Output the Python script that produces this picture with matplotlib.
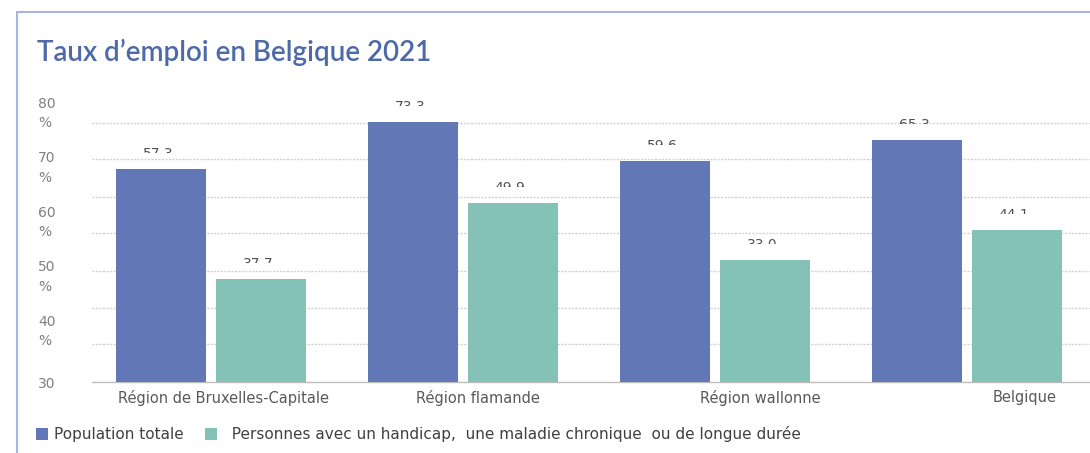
import numpy as np
import matplotlib
matplotlib.use('Agg')
import matplotlib.pyplot as plt
from matplotlib.patches import Rectangle, Patch
from matplotlib.transforms import Bbox

# values as drawn on the picture's axis (%)
regions = ['Région de Bruxelles-Capitale', 'Région flamande', 'Région wallonne', 'Belgique']
pop_totale = [69.0, 77.6, 70.5, 74.3]
handicap = [48.9, 62.8, 52.3, 57.8]
# data labels (only their upper half is visible on the source image)
pop_labels = ['57.3', '73.3', '59.6', '65.3']
hand_labels = ['37.7', '49.9', '33.0', '44.1']
ytick_vals = [30, 40, 50, 60, 70, 80]
ytick_text = ['30', '40\n%', '50\n%', '60\n%', '70\n%', '80\n%']
grid_levels = [36.9, 43.5, 50.3, 57.3, 63.9, 70.8, 77.4]
legend_text = ['Population totale',
               '  Personnes avec un handicap,  une maladie chronique  ou de longue durée']

c_total = '#6277b5'
c_hand = '#84c1b7'
c_title = '#4e69aa'

fig = plt.figure(figsize=(10.9, 4.53), dpi=100)
ax = fig.add_axes([92 / 1090, 71 / 453, 1 - 92 / 1090, 283.9 / 453])

x = np.arange(len(regions))
w = 0.357
off = 0.198
b1 = ax.bar(x - off, np.array(pop_totale) - 30, w, bottom=30, color=c_total, zorder=3)
b2 = ax.bar(x + off, np.array(handicap) - 30, w, bottom=30, color=c_hand, zorder=3)

ax.set_xlim(-0.472, 3.488)
ax.set_ylim(30, 82)

for g in grid_levels:
    ax.axhline(g, color='#d2d2d2', lw=1.0, ls=(0, (1.5, 1)), zorder=1)

for s in ['top', 'right', 'left']:
    ax.spines[s].set_visible(False)
ax.spines['bottom'].set_color('#bdbdbd')
ax.spines['bottom'].set_linewidth(1.0)

ax.set_yticks(ytick_vals)
ax.set_yticklabels(ytick_text, fontsize=10, color='#808080', ha='left',
                   multialignment='left', linespacing=1.5)
ax.tick_params(axis='y', length=0, pad=54 * 0.72)

# labels under groups are not quite centred on the source
shift = [0.05, 0.06, 0.18, 0.23]
ax.set_xticks(x + np.array(shift))
ax.set_xticklabels(regions, fontsize=10.5, color='#595959')
ax.tick_params(axis='x', length=0, pad=6)

# value labels, cut through the middle as on the source image
for bars, labs in [(b1, pop_labels), (b2, hand_labels)]:
    for rect, lab in zip(bars, labs):
        cx = rect.get_x() + rect.get_width() / 2
        top = rect.get_y() + rect.get_height()
        px, py = ax.transData.transform((cx, top))
        t = ax.annotate(lab, xy=(cx, top), xytext=(-3, 11), textcoords='offset pixels',
                        ha='center', va='baseline', fontsize=10, color='#505050',
                        zorder=4)
        t.set_clip_box(Bbox.from_extents(px - 40, py + 16, px + 40, py + 40))
        t.set_clip_on(True)

fig.text(37 / 1090, (453 - 61) / 453, 'Taux d\u2019emploi en Belgique 2021',
         fontsize=20, fontweight='semibold', color=c_title, va='baseline', ha='left',
         family=['Lato', 'DejaVu Sans'])

handles = [Patch(facecolor=c_total), Patch(facecolor=c_hand)]
fig.legend(handles, legend_text, loc='center left',
           bbox_to_anchor=(36 / 1090, (453 - 434) / 453), ncol=2, frameon=False,
           handlelength=0.8, handleheight=0.8, handletextpad=0.35, columnspacing=1.4,
           borderpad=0, borderaxespad=0, prop={'size': 11}, labelcolor='#404040')

fig.add_artist(Rectangle((17 / 1090, -0.1), 1.2, (453 - 12) / 453 + 0.1, fill=False,
                         edgecolor='#a9b6d8', lw=1.5, transform=fig.transFigure,
                         clip_on=False))

plt.savefig('out.png', dpi=100)
